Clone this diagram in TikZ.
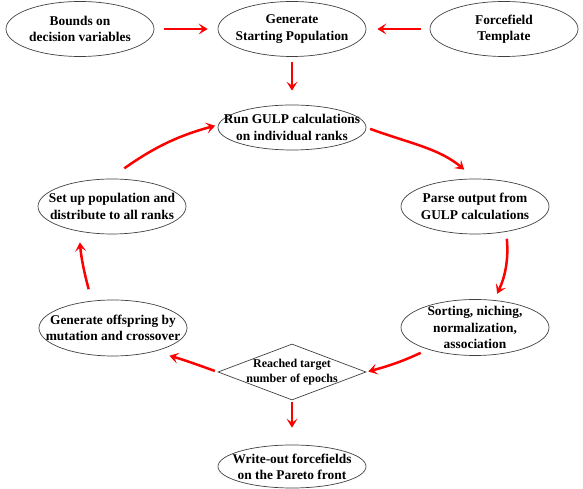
\documentclass[tikz,border=0pt]{standalone}
\usepackage{fontspec}
\setmainfont{Liberation Serif}
\usetikzlibrary{shapes.geometric,arrows.meta}
\begin{document}
\begin{tikzpicture}[x=1pt,y=1pt,
  ebox/.style={ellipse, draw=black!75, line width=0.7pt, minimum width=148pt,
    minimum height=55pt, inner xsep=-40pt, inner ysep=-20pt, align=center,
    font=\bfseries\fontsize{13.4}{16.3}\selectfont},
  dbox/.style={diamond, draw=black!75, line width=0.7pt, minimum width=148pt,
    minimum height=56pt, inner xsep=-30pt, inner ysep=-15pt, align=center,
    font=\bfseries\fontsize{12}{15.6}\selectfont},
  arr/.style={draw=red, line width=2.5pt, -{Stealth[length=9pt,width=11pt,inset=4pt]}}]
\useasboundingbox (0,0) rectangle (583,489);
\node[ebox] (bounds) at (80,460) {Bounds on\\decision variables};
\node[ebox] (gen) at (292,460) {Generate\\Starting Population};
\node[ebox] (force) at (504,460) {Forcefield\\Template};
\node[ebox, minimum height=45pt] (run) at (292,361.5) {Run GULP calculations\\on individual ranks};
\node[ebox] (parse) at (475,282.5) {Parse output from\\GULP calculations};
\node[ebox] (setup) at (112,282.5) {Set up population and\\distribute to all ranks};
\node[ebox, minimum height=56pt] (sorting) at (475,161.5) {Sorting, niching,\\normalization,\\association};
\node[ebox, minimum height=56pt] (off) at (113,161) {Generate offspring by\\mutation and crossover};
\node[dbox] (dia) at (292,117) {Reached target\\number of epochs};
\node[ebox, minimum height=43pt] (write) at (292,22.5) {Write-out forcefields\\on the Pareto front};

\draw[arr, shorten <=10pt, shorten >=10pt] (bounds) -- (gen);
\draw[arr, shorten <=9pt, shorten >=11pt] (force) -- (gen);
\draw[arr, shorten <=5pt, shorten >=14pt] (gen) -- (run);
\draw[arr, shorten <=4pt, shorten >=14pt] (run.east) to[out=-20,in=140] (parse.north);
\draw[arr, shorten <=7pt, shorten >=7pt] (parse.-39) to[out=-85,in=65] (sorting.55);
\draw[arr, shorten <=8pt, shorten >=2pt] (sorting.205) to[out=205,in=15] (dia.east);
\draw[arr, shorten <=3pt, shorten >=16pt] (dia.west) to[out=160,in=-15] (off.-30);
\draw[arr, shorten <=2pt, shorten >=17pt] (dia.south) -- (write.north);
\draw[arr, shorten <=12pt, shorten >=11pt] (off.128) to[out=105,in=-85] (setup.217);
\draw[arr, shorten <=18pt, shorten >=3pt] (setup.95) to[out=35,in=195] (run.178);
\end{tikzpicture}
\end{document}
